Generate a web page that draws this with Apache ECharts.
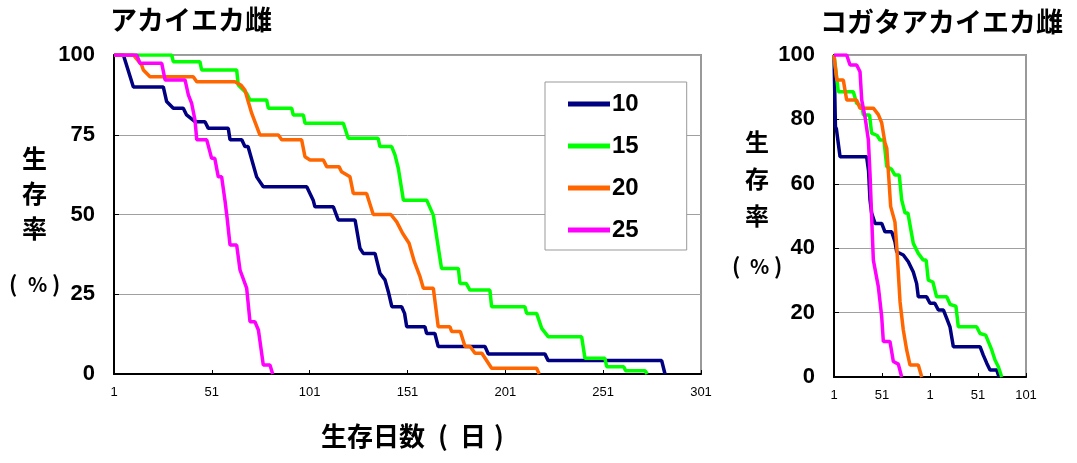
<!doctype html>
<head>
    <meta charset="utf-8">
    <script src="https://cdn.jsdelivr.net/npm/echarts@6/dist/echarts.min.js"></script>
</head>
<body style="margin: 0">
    <div id="container" style="width: 1077px; height: 463px"></div>
    <script type="text/javascript">
        // series names (rearing temperature)
        var seriesNames = ['10', '15', '20', '25'];
        var seriesColors = ['#000080', '#00ff00', '#ff6600', '#ff00ff'];

        // tick labels as printed on the chart
        var leftXTicks = ['1', '51', '101', '151', '201', '251', '301'];
        var rightXTicks = ['1', '51', '1', '51', '101'];

        // アカイエカ雌 : [day, survival %]
        var left10 = [[1,100],[5.8,100],[10.9,90],[26.2,90],[27.9,85.4],[31.3,83.3],[36.4,83.3],[38.1,81.2],[42.4,79.1],[47.5,79.1],[49.2,77],[59.4,77],[60.3,73.4],[66.3,73.4],[67.9,71.3],[69.5,71.3],[73.9,61.8],[77.3,58.7],[99.5,58.7],[102.8,54.5],[103.7,52.4],[113.1,52.4],[115.6,48.3],[124.2,48.3],[126.7,39.4],[128.4,37.8],[134.4,37.8],[136.9,31.6],[139.5,29.5],[141.2,25.8],[143,21.1],[148,21.1],[149.5,19],[150.6,14.8],[159.9,14.8],[160.8,12.7],[165,12.7],[166.7,8.6],[190.6,8.6],[192.3,6.3],[221.2,6.3],[222.9,4.2],[280.9,4.2],[282.6,0]];
        var left15 = [[1,100],[30.5,100],[31.3,97.9],[44.9,97.9],[45.8,95.3],[63.7,95.3],[64.5,90.6],[68.8,88],[70.5,85.9],[79,85.9],[79.9,83.3],[91.8,83.3],[92.6,81.2],[97.8,81.2],[98.6,78.6],[118.2,78.6],[120.7,73.9],[136,73.9],[136.9,71.3],[142.9,71.3],[144.6,68.7],[146.3,64.5],[148.9,54.5],[160.8,54.5],[164.2,49.8],[168.4,33.1],[177,33.1],[177.8,28.4],[181,28.4],[182.9,26.3],[193.1,26.3],[194,21.1],[211,21.1],[211.9,19],[217,19],[219.6,14.3],[222.9,11.7],[240,11.7],[241.7,4.9],[251.9,4.9],[252.8,2.3],[261.5,2.3],[262.5,1],[272.5,1],[273.5,0]];
        var left20 = [[1,100],[10.9,100],[15.1,96.9],[16,95.3],[19.4,93.2],[41.5,93.2],[43.3,91.6],[62.8,91.6],[66,90.5],[67.9,89],[69.6,85.4],[71.4,81.7],[75.6,74.9],[85,74.9],[86.7,73.4],[96.9,73.4],[98.6,68.1],[101.2,67.1],[108,67.1],[109.7,65],[116,65],[117.3,63.4],[121.6,61.8],[123.3,56.6],[130.1,56.6],[133.5,50],[142.5,50],[145.5,47.7],[148.5,44.1],[151.8,41],[154.5,35.2],[157.4,30.5],[159.1,26.9],[164.2,26.9],[166.7,14.8],[172.7,14.8],[173.6,13.3],[178,13.3],[180.4,8.6],[183,8.6],[185.5,6.5],[189,6.5],[194,1.8],[217,1.8],[218.3,0]];
        var left25 = [[1,100],[12.6,100],[14.3,97.4],[25.4,97.4],[27.1,92.2],[37.3,92.2],[39,87.5],[40.7,84.8],[42.4,79.6],[43.3,73.4],[48.4,73.4],[50.9,67.6],[52.5,67.6],[54.3,61.8],[56,61.8],[57.7,54.5],[58.8,49],[60.3,40.4],[63.7,40.4],[65.4,32.6],[68.8,26.9],[70.5,16.4],[73,16.4],[74.8,13.8],[77.3,2.8],[80.7,2.8],[82.1,0]];

        // コガタアカイエカ雌 : [day, survival %]
        var right10 = [[1,100],[2,100],[2.5,77.7],[3.5,77],[7.3,68.4],[35,68.4],[37,64],[38.5,55],[40.2,50.9],[43.7,47.7],[50.7,47.7],[54.1,45.1],[61.1,45.1],[64.5,42],[66.3,38.9],[73.2,37.9],[78.4,35.8],[83.6,32.6],[87.1,29],[88.8,24.9],[97.5,24.9],[101,22.9],[106,22.9],[109.7,20.8],[115,20.8],[118.4,18.2],[121.8,15.6],[125.3,9.4],[153.1,9.4],[156.5,6.8],[160.1,4.3],[163.5,2.2],[170.5,2.2],[172.9,0]];
        var right15 = [[1,100],[3,100],[5.5,88.6],[21.1,88.6],[24.6,85],[30,84],[31.6,81.4],[38,81.4],[40.2,75.7],[46,75],[48.9,73.6],[53,73.6],[55.9,65.4],[61,64.5],[64.5,62.7],[69,62.7],[71.5,55],[75,50.9],[78,50.9],[83.6,41.5],[88.8,38.4],[94,36.3],[97,36.3],[99.2,30.1],[104,29.5],[107.9,24.9],[118.4,24.9],[122,22.5],[128,22],[130.5,15.6],[149.6,15.6],[153.1,13.5],[159,13],[165.3,8.4],[168.7,5.3],[172.2,3.2],[175.7,0]];
        var right20 = [[1,100],[3,100],[4,92.2],[10.7,92.2],[14.2,86],[24.6,86],[28,83.5],[42,83.5],[47.2,81.5],[50.7,78.9],[54.1,72.7],[56,71],[58.5,60],[60,53],[64.5,48.1],[66.3,40.8],[69.8,23.3],[73.2,14.6],[76.7,8.4],[80.2,3.7],[88.8,3.7],[92.4,0]];
        var right25 = [[1,100],[14.2,100],[17.7,96.9],[24.6,96.9],[28.1,94.8],[29.9,86],[33.3,80.8],[36.8,73.6],[38.5,63.2],[40.2,49.8],[42,36.3],[47.2,28],[50.7,18.7],[52.4,11],[59.3,11],[62.8,4.8],[68,4],[71.5,0]];

        var leftData = [left10, left15, left20, left25];
        var rightData = [right10, right15, right20, right25];

        var dom = document.getElementById('container');
        var myChart = echarts.init(dom);

        var numFont = '"Liberation Sans", Arial, sans-serif';
        var jpFont = '"Noto Sans CJK JP", sans-serif';

        // x axis starts at day 1, so shift by one to keep ticks on multiples of 50
        function toAxis(arr) {
            return arr.map(function (p) { return [p[0] - 1, p[1]]; });
        }

        var series = [];
        leftData.forEach(function (d, i) {
            series.push({
                name: seriesNames[i], type: 'line', xAxisIndex: 0, yAxisIndex: 0,
                symbol: 'none', color: seriesColors[i],
                lineStyle: {width: 3.5, color: seriesColors[i]},
                data: toAxis(d)
            });
        });
        rightData.forEach(function (d, i) {
            series.push({
                name: seriesNames[i], type: 'line', xAxisIndex: 1, yAxisIndex: 1,
                symbol: 'none', color: seriesColors[i],
                lineStyle: {width: 3.5, color: seriesColors[i]},
                data: toAxis(d)
            });
        });

        function yAxis(idx, interval) {
            return {
                type: 'value', gridIndex: idx, min: 0, max: 100, interval: interval,
                axisLine: {show: true, lineStyle: {color: '#000', width: 2}},
                axisTick: {show: true, inside: true, length: 5, lineStyle: {color: '#000'}},
                axisLabel: {color: '#000', fontSize: 22, fontWeight: 'bold', fontFamily: numFont, margin: 19},
                splitLine: {show: true, lineStyle: {color: '#a0a0a0', width: 1}}
            };
        }

        function xAxis(idx, max, ticks) {
            return {
                type: 'value', gridIndex: idx, min: 0, max: max, interval: 50,
                axisLine: {show: true, onZero: false, lineStyle: {color: '#000', width: 2}},
                axisTick: {show: true, inside: true, length: 4, lineStyle: {color: '#000'}},
                axisLabel: {
                    color: '#000', fontSize: 13, fontFamily: numFont, margin: 12,
                    formatter: function (v) { return ticks[Math.round(v / 50)]; }
                },
                splitLine: {show: false}
            };
        }

        function txt(x, y, s, size) {
            return {type: 'text', left: x, top: y, style: {text: s, font: 'bold ' + size + 'px ' + jpFont, fill: '#000'}};
        }

        var option = {
            animation: false,
            backgroundColor: '#fff',
            grid: [
                {left: 114, top: 55, width: 587, height: 319, show: true, borderColor: '#999', borderWidth: 2},
                {left: 834, top: 55, width: 192, height: 322, show: true, borderColor: '#999', borderWidth: 2}
            ],
            xAxis: [xAxis(0, 300, leftXTicks), xAxis(1, 200, rightXTicks)],
            yAxis: [yAxis(0, 25), yAxis(1, 20)],
            legend: {
                data: seriesNames,
                orient: 'vertical',
                left: 545, top: 82,
                padding: [10, 48, 8, 23],
                itemGap: 18,
                itemWidth: 42, itemHeight: 5,
                icon: 'rect',
                backgroundColor: '#fff',
                borderColor: '#999', borderWidth: 1,
                textStyle: {fontSize: 24, fontWeight: 'bold', color: '#000', fontFamily: numFont, lineHeight: 24, padding: [0, 0, 0, -3]}
            },
            graphic: [
                txt(110, 6, 'アカイエカ雌', 27),
                txt(820, 8, 'コガタアカイエカ雌', 27),
                {type: 'text', left: 22, top: 141, style: {text: '生\n存\n率', font: 'bold 25px ' + jpFont, lineHeight: 35, fill: '#000'}},
                txt(9, 273, '(', 22), txt(28, 274, '%', 20), txt(52, 273, ')', 22),
                {type: 'text', left: 745, top: 123, style: {text: '生\n存\n率', font: 'bold 24px ' + jpFont, lineHeight: 37, fill: '#000'}},
                txt(732, 255, '(', 22), txt(750, 256, '%', 20), txt(774, 255, ')', 22),
                txt(321, 423, '生存日数', 26),
                txt(438, 423, '(', 26), txt(460, 423, '日', 26), txt(494, 423, ')', 26)
            ],
            series: series
        };

        myChart.setOption(option);
    </script>
</body>
</html>
